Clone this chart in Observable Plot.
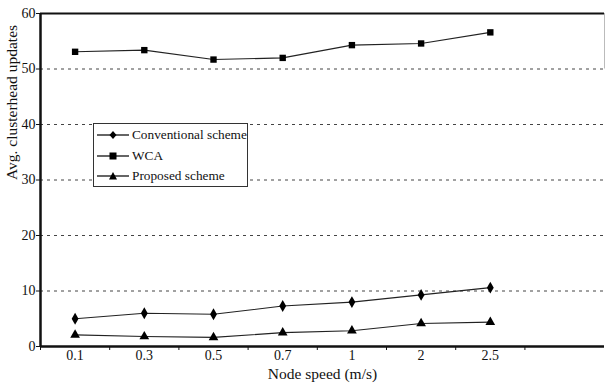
<!DOCTYPE html>
<html><head><meta charset="utf-8">
<script src="https://cdn.jsdelivr.net/npm/d3@7"></script>
<script src="https://cdn.jsdelivr.net/npm/@observablehq/plot@0.6"></script>
<style>
body{margin:0;background:#fff}
#c{position:relative;width:606px;height:388px;font-family:"Liberation Serif","Times New Roman",Times,serif}
#c svg text{font-family:"Liberation Serif","Times New Roman",Times,serif !important}
#legend{position:absolute;left:93px;top:123px;width:155px;height:64px;border:1px solid #333;background:#fff;box-sizing:border-box;font-size:13.3px;color:#111}
#legend .row{position:absolute;left:3px;height:16px;display:flex;align-items:center}
#legend svg{margin-right:3px}
</style>
</head><body><div id="c"></div>
<script>
const speeds = ["0.1","0.3","0.5","0.7","1","2","2.5"];
const conventional = [5.0, 6.0, 5.8, 7.3, 8.0, 9.3, 10.6];
const wca = [53.1, 53.4, 51.7, 52.0, 54.3, 54.6, 56.6];
const proposed = [2.1, 1.8, 1.65, 2.5, 2.85, 4.15, 4.4];
const yTicks = [0, 10, 20, 30, 40, 50, 60];
const gridLines = [10, 20, 30, 40, 50];
const seriesNames = ["Conventional scheme", "WCA", "Proposed scheme"];
const seriesSymbols = ["diamond", "square", "triangle"];

const FONT = "'Liberation Serif', 'Times New Roman', Times, serif";
const rows = [];
[conventional, wca, proposed].forEach((vals, s) => {
  vals.forEach((v, i) => rows.push({series: seriesNames[s], symbol: seriesSymbols[s], i, v}));
});
const xMin = -0.5, xMax = 7.65;
const boundaries = d3.range(0, speeds.length + 1).map(k => k - 0.5);

const chart = Plot.plot({
  width: 606, height: 388,
  marginLeft: 40, marginRight: 2, marginTop: 13, marginBottom: 42,
  style: {fontFamily: FONT, fontSize: "13px", color: "#111", background: "#fff"},
  x: {type: "linear", domain: [xMin, xMax]},
  y: {domain: [0, 60]},
  symbol: {domain: seriesSymbols, range: seriesSymbols},
  marks: [
    Plot.ruleY(gridLines, {x1: xMin, x2: xMax, stroke: "#444", strokeWidth: 1, strokeDasharray: "3,4"}),
    Plot.ruleY([60], {x1: xMin, x2: xMax, stroke: "#111", strokeWidth: 2}),
    Plot.ruleX([xMax], {y1: 50, y2: 60, stroke: "#bbb", strokeWidth: 1}),
    Plot.axisY({ticks: yTicks, tickSize: 4, tickPadding: 1, label: null, fontSize: 14, fontFamily: FONT}),
    Plot.axisX({ticks: boundaries, tickSize: 4, tickFormat: () => "", label: null}),
    Plot.axisX({ticks: d3.range(speeds.length), tickSize: 0, tickPadding: 4, tickFormat: i => speeds[i], label: null, fontSize: 14, fontFamily: FONT}),
    Plot.ruleX([xMin], {y1: 0, y2: 60, stroke: "#111", strokeWidth: 2.5}),
    Plot.ruleY([0], {x1: xMin, x2: xMax, stroke: "#111", strokeWidth: 2.5}),
    Plot.line(rows, {x: "i", y: "v", z: "series", stroke: "#222", strokeWidth: 1.1}),
    Plot.dot(rows, {x: "i", y: "v", symbol: "symbol", fill: "#000", r: 3.6}),
    Plot.text(["Node speed (m/s)"], {frameAnchor: "bottom", dy: 32, fontSize: 15.5, fill: "#111", fontFamily: FONT}),
    Plot.text(["Avg. clusterhead updates"], {frameAnchor: "left", dx: -28, rotate: -90, fontSize: 15.5, fill: "#111", fontFamily: FONT})
  ]
});
const c = document.getElementById("c");
c.appendChild(chart);

// legend
const leg = document.createElement("div");
leg.id = "legend";
const sym = {
  diamond: '<path d="M16 4 L19.5 8 L16 12 L12.5 8 Z" fill="#000"/>',
  square: '<rect x="12.5" y="4.5" width="7" height="7" fill="#000"/>',
  triangle: '<path d="M16 4 L20 11.5 L12 11.5 Z" fill="#000"/>'
};
const tops = [3, 23.5, 44];
seriesNames.forEach((n, k) => {
  const r = document.createElement("div");
  r.className = "row";
  r.style.top = tops[k] + "px";
  r.innerHTML = `<svg width="32" height="16"><line x1="0" y1="8" x2="32" y2="8" stroke="#111" stroke-width="1.3"/>${sym[seriesSymbols[k]]}</svg><span>${n}</span>`;
  leg.appendChild(r);
});
c.appendChild(leg);
</script>
</body></html>
